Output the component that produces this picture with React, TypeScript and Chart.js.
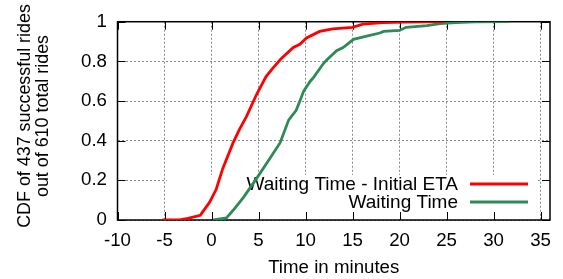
import React, { useEffect, useRef } from "react";
import { Chart, registerables } from "chart.js";

Chart.register(...registerables);

// ---- data ----
const seriesLabels = ["Waiting Time - Initial ETA", "Waiting Time"];
const seriesColors = ["#ff0000", "#2e8b57"];

const etaDiffX = [-5.2, -3.4, -2.5, -1.2, -0.2, 0.5, 1.2, 2.3, 3.0, 3.7, 4.8, 5.8, 6.5, 7.4, 8.7, 9.4, 10.1, 11.5, 12.9, 15.0, 16.1, 18.2, 20.5, 24.8];
const etaDiffY = [0, 0, 0.008, 0.024, 0.09, 0.155, 0.26, 0.39, 0.46, 0.52, 0.634, 0.723, 0.765, 0.813, 0.87, 0.886, 0.918, 0.951, 0.964, 0.972, 0.988, 0.995, 0.998, 1.0];

const waitX = [0.2, 1.6, 2.3, 3.4, 4.8, 6.2, 7.3, 8.2, 9.0, 9.4, 9.8, 10.5, 10.8, 11.9, 12.2, 13.3, 14.0, 15.1, 16.5, 17.9, 18.3, 20.0, 20.7, 22.9, 24.3, 26.0, 28.0, 31.7];
const waitY = [0, 0.011, 0.049, 0.114, 0.21, 0.31, 0.39, 0.504, 0.553, 0.6, 0.65, 0.7, 0.716, 0.789, 0.805, 0.854, 0.87, 0.911, 0.927, 0.943, 0.951, 0.956, 0.972, 0.98, 0.99, 0.996, 0.999, 1.0];

const xMin = -10;
const xMax = 36;
const xStep = 5;
const yMin = 0;
const yMax = 1;
const yStep = 0.2;

const yTitleLines = ["CDF of 437 successful rides", "out of 610 total rides"];
const xTitle = "Time in minutes";

const FONT = "'Liberation Sans', Arial, Helvetica, sans-serif";
const FS = 18.7;
const KEY_FS = 19;
const YT_FS = 17.9;

const toPoints = (xs: number[], ys: number[]) => xs.map((x, i) => ({ x, y: ys[i] }));

const framePlugin = {
  id: "gnuFrame",
  beforeDatasetsDraw(chart: any) {
    const { ctx, chartArea: a, scales } = chart;
    const sx = scales.x;
    const sy = scales.y;
    ctx.save();
    // opaque key box
    ctx.fillStyle = "#ffffff";
    ctx.fillRect(167, 175, 536 - 167, a.bottom - 1 - 175);

    // border
    ctx.strokeStyle = "#000";
    ctx.lineWidth = 1.5;
    ctx.strokeRect(a.left, a.top, a.right - a.left, a.bottom - a.top);

    // tick marks (inward, mirrored)
    ctx.lineWidth = 1;
    ctx.beginPath();
    const tl = 8;
    sx.ticks.forEach((t: any) => {
      const px = Math.round(sx.getPixelForValue(t.value)) + 0.5;
      ctx.moveTo(px, a.bottom);
      ctx.lineTo(px, a.bottom - tl);
      ctx.moveTo(px, a.top);
      ctx.lineTo(px, a.top + tl);
    });
    sy.ticks.forEach((t: any) => {
      const py = Math.round(sy.getPixelForValue(t.value)) + 0.5;
      ctx.moveTo(a.left, py);
      ctx.lineTo(a.left + tl, py);
      ctx.moveTo(a.right, py);
      ctx.lineTo(a.right - tl, py);
    });
    ctx.stroke();

    // key
    ctx.font = `${KEY_FS}px ${FONT}`;
    ctx.textAlign = "right";
    ctx.textBaseline = "alphabetic";
    const keyRows = [189.5, 208];
    const lineYs = [184, 202];
    chart.data.datasets.forEach((ds: any, i: number) => {
      ctx.fillStyle = "#000";
      ctx.fillText(ds.label, 458, keyRows[i]);
      ctx.strokeStyle = ds.borderColor;
      ctx.lineWidth = 3;
      ctx.beginPath();
      ctx.moveTo(470, lineYs[i]);
      ctx.lineTo(528, lineYs[i]);
      ctx.stroke();
    });
    ctx.restore();
  },
  afterDraw(chart: any) {
    const { ctx, chartArea: a } = chart;
    ctx.save();
    ctx.fillStyle = "#000";
    ctx.font = `${FS}px ${FONT}`;
    ctx.textAlign = "center";
    ctx.textBaseline = "alphabetic";
    ctx.fillText(xTitle, (a.left + a.right) / 2, 273);
    ctx.font = `${YT_FS}px ${FONT}`;
    const cy = 116;
    const baseXs = [30, 47.5];
    yTitleLines.forEach((line, i) => {
      ctx.save();
      ctx.translate(baseXs[i], cy);
      ctx.rotate(-Math.PI / 2);
      ctx.fillText(line, 0, 0);
      ctx.restore();
    });
    ctx.restore();
  },
};

export default function App() {
  const ref = useRef<HTMLCanvasElement | null>(null);
  useEffect(() => {
    if (!ref.current) return;
    const chart = new Chart(ref.current, {
      type: "line",
      data: {
        datasets: [
          {
            label: seriesLabels[0],
            data: toPoints(etaDiffX, etaDiffY),
            borderColor: seriesColors[0],
            borderWidth: 2.8,
            pointRadius: 0,
            tension: 0,
            fill: false,
          },
          {
            label: seriesLabels[1],
            data: toPoints(waitX, waitY),
            borderColor: seriesColors[1],
            borderWidth: 2.8,
            pointRadius: 0,
            tension: 0,
            fill: false,
          },
        ],
      },
      options: {
        responsive: false,
        animation: false,
        events: [],
        layout: { autoPadding: false, padding: { left: 0, right: 13, top: 15, bottom: 0 } },
        plugins: { legend: { display: false }, tooltip: { enabled: false }, title: { display: false } },
        scales: {
          x: {
            type: "linear",
            min: xMin,
            max: xMax,
            afterFit: (s: any) => { s.height = 59; },
            ticks: {
              stepSize: xStep,
              includeBounds: false,
              color: "#000",
              font: { family: FONT, size: FS },
              padding: 10,
              maxRotation: 0,
              autoSkip: false,
              callback: (v: any) => String(Math.round(Number(v))),
            },
            grid: { color: "#8a8a8a", lineWidth: 1, drawTicks: false },
            border: { display: false, dash: [2, 2] },
          },
          y: {
            type: "linear",
            min: yMin,
            max: yMax,
            afterFit: (s: any) => { s.width = 117.5; },
            ticks: {
              stepSize: yStep,
              color: "#000",
              font: { family: FONT, size: FS },
              padding: 10.5,
              autoSkip: false,
              callback: (v: any) => String(Number(Number(v).toFixed(1))),
            },
            grid: { color: "#8a8a8a", lineWidth: 1, drawTicks: false },
            border: { display: false, dash: [2, 2] },
          },
        },
      },
      plugins: [framePlugin],
    } as any);
    return () => chart.destroy();
  }, []);
  return (
    <div style={{ position: "absolute", left: 0, top: 0, width: 563, height: 279, background: "#fff" }}>
      <canvas ref={ref} width={563} height={279} style={{ display: "block" }} />
    </div>
  );
}
